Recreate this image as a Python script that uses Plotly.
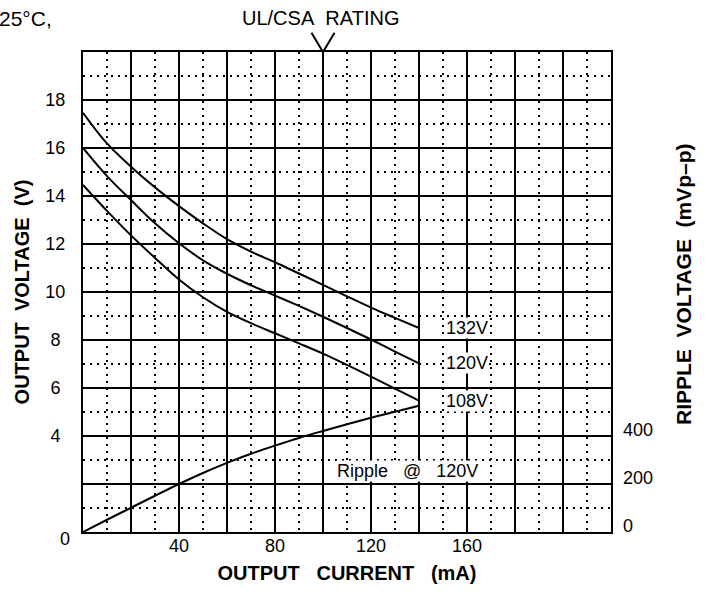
import plotly.graph_objects as go

# ---- data ----
current_ma = [0, 10, 20, 30, 40, 50, 60, 70, 80, 90, 100, 110, 120, 130, 140]
vout_132 = [17.47, 16.19, 15.22, 14.36, 13.58, 12.86, 12.20, 11.68, 11.24, 10.77,
            10.30, 9.82, 9.35, 8.92, 8.50]
vout_120 = [16.00, 14.83, 13.83, 12.86, 12.03, 11.32, 10.76, 10.28, 9.85, 9.42,
            8.97, 8.50, 8.02, 7.52, 7.03]
vout_108 = [14.46, 13.38, 12.36, 11.42, 10.52, 9.78, 9.17, 8.70, 8.28, 7.86,
            7.43, 6.96, 6.47, 5.97, 5.47]
ripple_mv = [0, 51, 101, 151, 200, 246, 288, 326, 360, 392, 421, 449, 476, 501, 526]
line_names = ["132V", "120V", "108V"]

x_tickvals = [0, 20, 40, 60, 80, 100, 120, 140, 160, 180, 200, 220]
x_ticktext = ["", "", "40", "", "80", "", "120", "", "160", "", "", ""]
y_tickvals = [0, 2, 4, 6, 8, 10, 12, 14, 16, 18, 20]
y_ticktext = ["", "", "4\u00a0", "6\u00a0", "8\u00a0", "10", "12", "14", "16", "18", ""]
y2_tickvals = [0, 200, 400]
y2_ticktext = ["0", "200", "400"]
rating_ma = 100

FONT = "Liberation Sans, Arial, sans-serif"
BLACK = "#000000"
SP2 = "\u00a0\u00a0"
SP3 = "\u00a0\u00a0\u00a0"

fig = go.Figure()
for name, vals in zip(line_names, [vout_132, vout_120, vout_108]):
    fig.add_trace(go.Scatter(x=current_ma, y=vals, mode="lines", name=name,
                             line=dict(color=BLACK, width=2, shape="spline", smoothing=1.0),
                             showlegend=False, hoverinfo="skip"))
fig.add_trace(go.Scatter(x=current_ma, y=ripple_mv, mode="lines", name="Ripple",
                         yaxis="y2", line=dict(color=BLACK, width=2, shape="spline", smoothing=1.0),
                         showlegend=False, hoverinfo="skip"))

grid_common = dict(showgrid=True, gridcolor=BLACK, gridwidth=2, zeroline=False,
                   showline=True, linecolor=BLACK, linewidth=2, mirror=True, ticks="")

fig.update_layout(
    width=713, height=592,
    margin=dict(l=83, r=102, t=52, b=60, autoexpand=False),
    paper_bgcolor="white", plot_bgcolor="white",
    font=dict(family=FONT, size=18, color=BLACK),
    xaxis=dict(range=[0, 220], tickmode="array", tickvals=x_tickvals, ticktext=x_ticktext,
               ticklabelstandoff=-4,
               minor=dict(dtick=10, tick0=0, showgrid=True, gridcolor=BLACK,
                          gridwidth=2, griddash="2px,5px"),
               title=dict(text="OUTPUT" + SP3 + "CURRENT" + SP3 + "(mA)",
                          font=dict(size=20, family=FONT, weight="bold"), standoff=11),
               **grid_common),
    yaxis=dict(range=[0, 20], tickmode="array", tickvals=y_tickvals, ticktext=y_ticktext,
               ticklabelstandoff=12,
               minor=dict(dtick=1, tick0=0, showgrid=True, gridcolor=BLACK,
                          gridwidth=2, griddash="2px,5px"),
               title=dict(text="OUTPUT" + SP2 + "VOLTAGE" + SP2 + "(V)",
                          font=dict(size=20, family=FONT, weight="bold"), standoff=10),
               **grid_common),
    yaxis2=dict(range=[0, 2000], overlaying="y", side="right", tickmode="array",
                tickvals=y2_tickvals, ticktext=y2_ticktext, showgrid=False,
                zeroline=False, ticks="", ticklabelstandoff=11, ticklabelshift=-6),
)

# right-hand axis title
fig.add_annotation(x=1, y=0.5, xref="paper", yref="paper",
                   text="RIPPLE" + SP2 + "VOLTAGE" + SP2 + "(mVp\u2013p)", showarrow=False,
                   textangle=-90, xanchor="center", yanchor="middle", xshift=72, yshift=8,
                   font=dict(size=21, family=FONT, weight="bold"))
# curve labels at the line ends
for name, vals in zip(line_names, [vout_132, vout_120, vout_108]):
    fig.add_annotation(x=160, y=vals[-1], xref="x", yref="y", text=name, showarrow=False,
                       bgcolor="white", borderpad=0, font=dict(size=18))
fig.add_annotation(x=135, y=2.55, xref="x", yref="y",
                   text="Ripple" + SP3 + "@" + SP3 + "120V", showarrow=False,
                   bgcolor="white", borderpad=0, font=dict(size=18))
# corner zero of the voltage axis
fig.add_annotation(x=0, y=0, xref="x", yref="y", text="0", showarrow=False,
                   xanchor="right", xshift=-11, yshift=-7, font=dict(size=18))
# top texts
fig.add_annotation(x=0, y=1, xref="paper", yref="paper", text="25\u00b0C,", showarrow=False,
                   xanchor="left", yanchor="middle", xshift=-86, yshift=34, font=dict(size=21))
fig.add_annotation(x=rating_ma, y=1, xref="x", yref="paper",
                   text="UL/CSA" + SP2 + "RATING", showarrow=False,
                   xanchor="center", yanchor="middle", xshift=-3, yshift=34, font=dict(size=20))
# rating marker "V"
fig.add_shape(type="path", xref="x", yref="paper",
              path=f"M {rating_ma-4.8},1.04 L {rating_ma},1 L {rating_ma+4.8},1.04",
              line=dict(color=BLACK, width=2))

fig.write_html("out.html", config={"displayModeBar": False},
               post_script="document.body.style.margin='0';")
